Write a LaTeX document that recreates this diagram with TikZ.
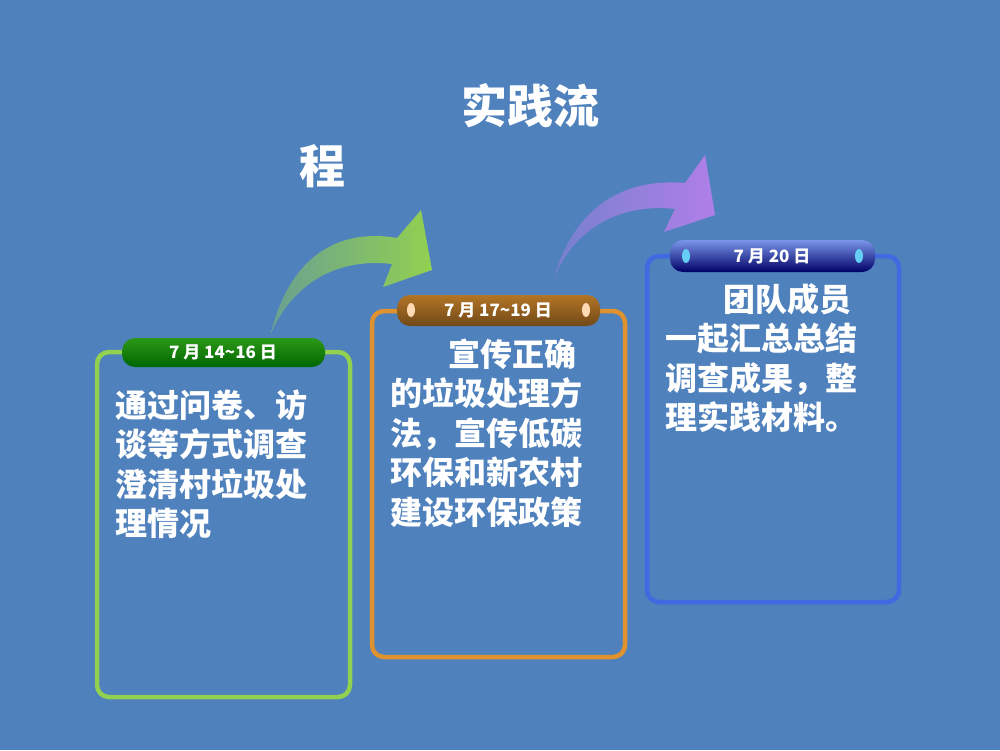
\documentclass[tikz,border=0pt]{standalone}
\usepackage{fontspec}
\setmainfont{Liberation Sans}
\newfontfamily\cjk{Noto Sans CJK SC}
\usetikzlibrary{shadings}
\definecolor{bg}{HTML}{4F81BD}
\definecolor{gbox}{HTML}{92D050}
\definecolor{obox}{HTML}{E0922F}
\definecolor{bbox}{HTML}{4169E1}
\definecolor{pur}{HTML}{B07FE8}
\begin{document}
\begin{tikzpicture}[x=1pt,y=-1pt,
 card/.style={draw,line width=4.5pt,rounded corners=12pt},
 tab/.style={rounded corners=13pt},
 tabtxt/.style={text=white,font=\cjk\bfseries\fontsize{17}{20}\selectfont},
 body/.style={text=white,anchor=north west,align=left,font=\cjk\bfseries\fontsize{32}{39.5}\selectfont},
 dot/.style={fill=#1,draw=none}]
\useasboundingbox (0,0) rectangle (1000,750);
\fill[bg] (0,0) rectangle (1000,750);
% arrows
\shade[left color=bg!60!gbox,right color=gbox] (271,333) .. controls (290,255) and (340,228) .. (397,238) -- (421,210) -- (432,270) -- (383,287) -- (392,264) .. controls (340,258) and (295,280) .. (271,333) -- cycle;
\shade[left color=bg!60!pur,right color=pur] (554,278) .. controls (575,205) and (625,178) .. (685,183) -- (705,155) -- (715,215) -- (664,232) -- (675,209) .. controls (620,203) and (575,228) .. (554,278) -- cycle;
% title
\node[text=white,font=\cjk\bfseries\fontsize{46}{50}\selectfont] (t1) at (530,106) {实践流};
\node[text=white,font=\cjk\bfseries\fontsize{46}{50}\selectfont] (t2) at (322,166) {程};
% cards
\draw[card,gbox] (97,352) rectangle (350,697);
\draw[card,obox] (372,311) rectangle (625,657);
\draw[card,bbox] (647,256) rectangle (899,602);
% tabs
\shade[tab,top color=green!50!black!70!gbox,bottom color=green!40!black] (122,338) rectangle (325,367);
\node[tabtxt] (d1) at (223,352) {7 月 14\textasciitilde16 日};
\shade[tab,top color=obox!80!black,bottom color=obox!50!black] (397,295) rectangle (600,326);
\fill[dot=orange!30!white] (411,310) ellipse (4 and 7);
\fill[dot=orange!30!white] (586,310) ellipse (4 and 7);
\node[tabtxt] (d2) at (498,310) {7 月 17\textasciitilde19 日};
\shade[tab,top color=bbox!70!white,bottom color=blue!40!black] (670,240) rectangle (875,272);
\fill[dot=cyan!60!white] (686,256) ellipse (4 and 7);
\fill[dot=cyan!60!white] (859,256) ellipse (4 and 7);
\node[tabtxt] (d3) at (772,256) {7 月 20 日};
% bodies
\node[body] (b1) at (112,386) {通过问卷、访\\谈等方式调查\\澄清村垃圾处\\理情况};
\node[body] (b2) at (387,335) {\hspace*{58pt}宣传正确\\的垃圾处理方\\法，宣传低碳\\环保和新农村\\建设环保政策};
\node[body] (b3) at (662,280) {\hspace*{58pt}团队成员\\一起汇总总结\\调查成果，整\\理实践材料。};
\end{tikzpicture}
\end{document}
